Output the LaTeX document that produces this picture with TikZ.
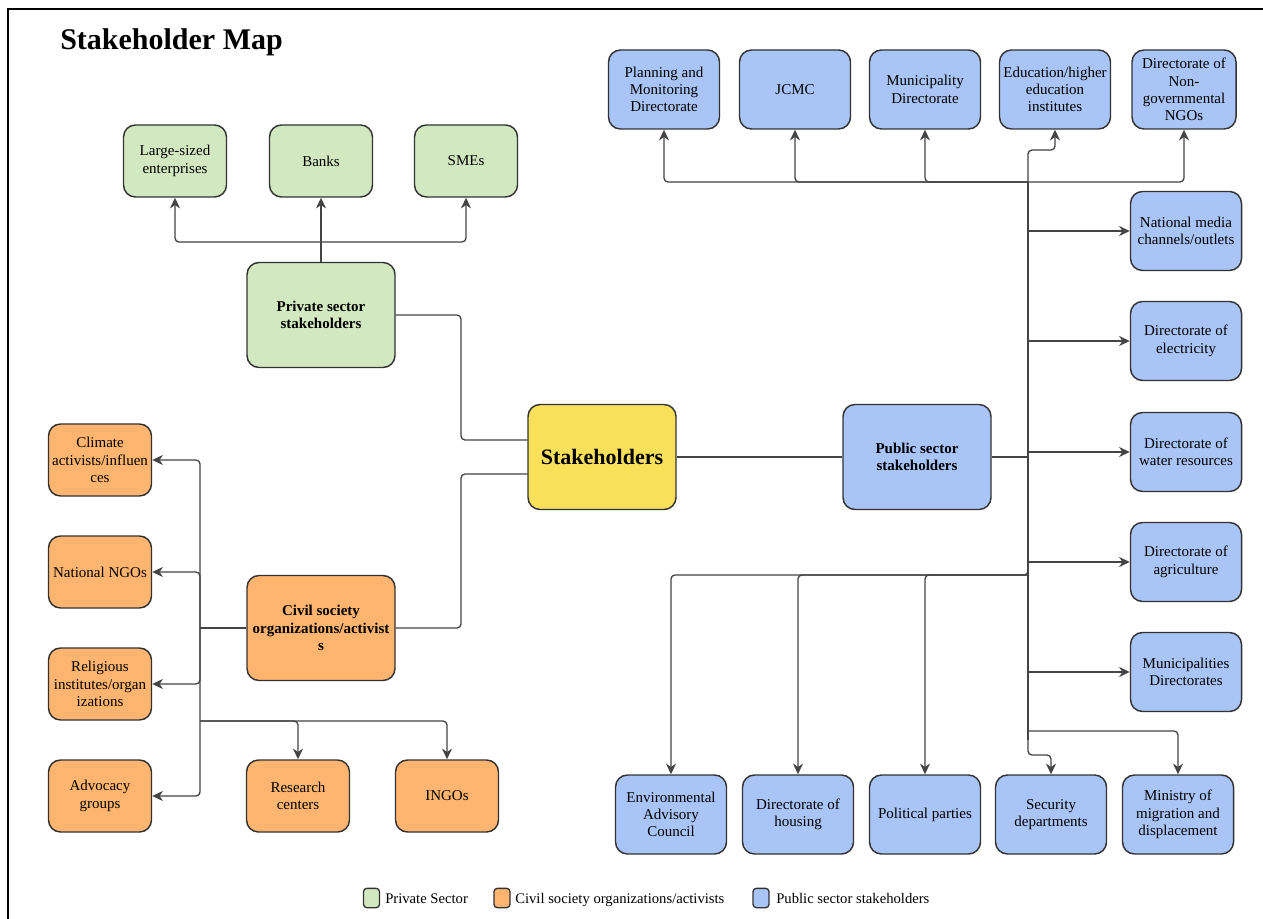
\documentclass[tikz,border=0pt]{standalone}
\usepackage{fontspec}
\setmainfont{LiberationSerif}[Extension=.ttf,UprightFont=*-Regular,BoldFont=*-Bold,ItalicFont=*-Italic,BoldItalicFont=*-BoldItalic]
\usetikzlibrary{arrows.meta,calc}
\definecolor{gfill}{HTML}{D2E8C0}
\definecolor{ofill}{HTML}{FFB570}
\definecolor{bfill}{HTML}{A9C4F7}
\definecolor{yfill}{HTML}{F9E05A}
\definecolor{bordc}{HTML}{333333}
\definecolor{linec}{HTML}{444444}
\begin{document}
\begin{tikzpicture}[x=0.75pt,y=-0.75pt,
  box/.style={draw=bordc,line width=1.1pt,rounded corners=9pt,align=center,inner sep=1pt,
    font=\fontsize{11.25}{13}\selectfont},
  small/.style={box,minimum width=77.25pt,minimum height=54pt},
  big/.style={box,minimum width=111pt,minimum height=78.75pt,font=\fontsize{11.25}{13}\selectfont\bfseries},
  blue/.style={box,fill=bfill,minimum width=83.25pt,minimum height=59.25pt},
  green/.style={small,fill=gfill},
  orange/.style={small,fill=ofill},
  line/.style={draw=linec,line width=1pt,rounded corners=3pt},
  arr/.style={line,-{Stealth[length=8pt,width=7.5pt,inset=2.5pt]}},
  legsq/.style={draw=bordc,line width=1pt,rounded corners=2.5pt,minimum width=12pt,minimum height=14.5pt,inner sep=0pt},
  legtx/.style={anchor=base west,inner sep=0pt,font=\fontsize{11}{12}\selectfont}
]
\useasboundingbox (0,0) rectangle (1263,919);
\draw[line width=1.5pt,black] (8,940) -- (8,9) -- (1280,9);
\node[anchor=west,inner sep=0pt,font=\fontsize{22.5}{26}\selectfont\bfseries] (title) at (60,42) {Stakeholder Map};

% green
\node[green] (lse) at (175,161) {Large-sized\\enterprises};
\node[green] (banks) at (321,161) {Banks};
\node[green] (smes) at (466,161) {SMEs};
\node[big,fill=gfill] (pri) at (321,315) {Private sector\\stakeholders};
% center
\node[big,fill=yfill,font=\fontsize{16.5}{19}\selectfont\bfseries] (stk) at (602,457) {Stakeholders};
\node[big,fill=bfill] (pub) at (917,457) {Public sector\\stakeholders};
% orange
\node[big,fill=ofill] (civ) at (321,628) {Civil society\\organizations/activist\\s};
\node[orange] (cli) at (100,460) {Climate\\activists/influen\\ces};
\node[orange] (nngo) at (100,572) {National NGOs};
\node[orange] (rel) at (100,684) {Religious\\institutes/organ\\izations};
\node[orange] (adv) at (100,796) {Advocacy\\groups};
\node[orange] (res) at (298,796) {Research\\centers};
\node[orange] (ingo) at (447,796) {INGOs};
% blue top
\node[blue] (plan) at (664,89.5) {Planning and\\Monitoring\\Directorate};
\node[blue] (jcmc) at (795,89.5) {JCMC};
\node[blue] (muni) at (925,89.5) {Municipality\\Directorate};
\node[blue] (edu) at (1055,89.5) {Education/higher\\education\\institutes};
\node[blue,minimum width=78pt] (dngo) at (1184,89.5) {Directorate of\\Non-\\governmental\\NGOs};
% blue right
\node[blue] (media) at (1186,231) {National media\\channels/outlets};
\node[blue] (elec) at (1186,341) {Directorate of\\electricity};
\node[blue] (water) at (1186,452) {Directorate of\\water resources};
\node[blue] (agri) at (1186,562) {Directorate of\\agriculture};
\node[blue] (munis) at (1186,672) {Municipalities\\Directorates};
% blue bottom
\node[blue] (env) at (671,814.5) {Environmental\\Advisory\\Council};
\node[blue] (hous) at (798,814.5) {Directorate of\\housing};
\node[blue] (pol) at (925,814.5) {Political parties};
\node[blue] (sec) at (1051,814.5) {Security\\departments};
\node[blue] (min) at (1178,814.5) {Ministry of\\migration and\\displacement};

% center links
\draw[line] (pri.east) -- (461,315) |- ($(stk.west)+(0,-17)$);
\draw[line] (civ.east) -- (461,628) |- ($(stk.west)+(0,17)$);
\draw[line] (stk.east) -- (pub.west);

% private branch
\coordinate (pj) at (321,242);
\draw[line] (pri.north) -- (pj);
\draw[arr] (pj) -| (lse.south);
\draw[arr] (pj) -- (banks.south);
\draw[arr] (pj) -| (smes.south);

% civil branch
\coordinate (cj) at (200,628);
\coordinate (cj2) at (200,721);
\draw[line] (civ.west) -- (cj);
\draw[arr] (cj) |- (cli.east);
\draw[arr] (cj) |- (nngo.east);
\draw[arr] (cj) |- (rel.east);
\draw[arr] (cj) |- (adv.east);
\draw[arr] (cj2) -| (res.north);
\draw[arr] (cj2) -| (ingo.north);

% public branch
\coordinate (pj2) at (1028,457);
\coordinate (ptop) at (1028,182);
\coordinate (pbot) at (1028,575);
\draw[line] (pub.east) -- (pj2);
\draw[line] (ptop) -- (1028,740);
\draw[arr] (ptop) -| (plan.south);
\draw[arr] (ptop) -| (jcmc.south);
\draw[arr] (ptop) -| (muni.south);
\draw[arr] (ptop) -- (1028,150) -| (edu.south);
\draw[arr] (ptop) -| (dngo.south);
\draw[arr] (pj2 |- media.west) -- (media.west);
\draw[arr] (pj2 |- elec.west) -- (elec.west);
\draw[arr] (pj2 |- water.west) -- (water.west);
\draw[arr] (pj2 |- agri.west) -- (agri.west);
\draw[arr] (pj2 |- munis.west) -- (munis.west);
\draw[arr] (pj2) -- (pbot) -| (env.north);
\draw[arr] (pbot) -| (hous.north);
\draw[arr] (pbot) -| (pol.north);
\draw[arr] (pbot) -- (1028,755) -| (sec.north);
\draw[arr] (1028,731) -| (min.north);

% legend
\node[legsq,fill=gfill] (lg1) at (371.5,898) {};
\node[legtx] (lt1) at (385,903) {Private Sector};
\node[legsq,fill=ofill] (lg2) at (502,898) {};
\node[legtx] (lt2) at (515,903) {Civil society organizations/activists};
\node[legsq,fill=bfill] (lg3) at (761,898) {};
\node[legtx] (lt3) at (776,903) {Public sector stakeholders};
\end{tikzpicture}
\end{document}
